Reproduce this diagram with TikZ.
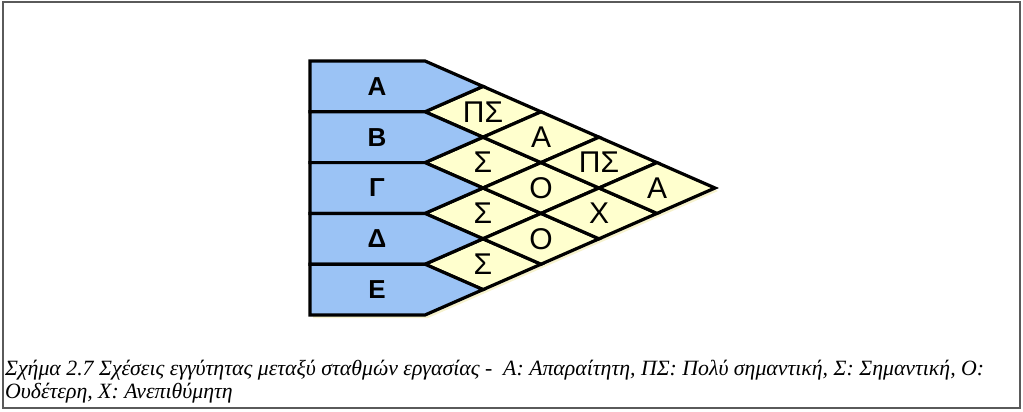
\documentclass[tikz,border=0pt]{standalone}
\usepackage{fontspec}
\setmainfont{Liberation Serif}
\setsansfont{Liberation Sans}
\usetikzlibrary{calc}
\definecolor{rowblue}{RGB}{155,195,245}
\definecolor{relyellow}{RGB}{255,255,206}
\definecolor{shadeyellow}{RGB}{246,242,206}
\definecolor{framegray}{RGB}{90,90,90}

\begin{document}
\begin{tikzpicture}[
    x=1pt, y=-1pt,
    rowbox/.style={draw, fill=rowblue, line width=3.2pt, line join=miter},
    relbox/.style={draw, fill=relyellow, line width=3.2pt, line join=miter},
    rowlabel/.style={font=\sffamily\bfseries\fontsize{26}{26}\selectfont},
    rellabel/.style={font=\sffamily\fontsize{30}{30}\selectfont},
    captext/.style={font=\itshape\fontsize{21.8}{23}\selectfont, align=left, inner sep=0pt}
]
    \useasboundingbox (0,0) rectangle (1023,412);
    \draw[framegray, line width=1.5pt] (3,2) rectangle (1020,408);

    % chart geometry: top, row height, half diamond width
    \def\charttop{61}
    \def\rowht{50.8}
    \def\halfw{58}

    % shadow under the chart
    \fill[shadeyellow] (313,64) -- (428,64) -- (718,191) -- (428,318) -- (313,318) -- cycle;

    % relation diamonds
    \foreach \i/\j/\lab in {0/1/ΠΣ, 1/2/Σ, 2/3/Σ, 3/4/Σ, 0/2/Α, 1/3/Ο, 2/4/Ο, 0/3/ΠΣ, 1/4/Χ, 0/4/Α} {
        \pgfmathsetmacro\cx{425+(\j-\i)*\halfw}
        \pgfmathsetmacro\cy{\charttop+((\i+\j)/2+0.5)*\rowht}
        \draw[relbox] (\cx-\halfw,\cy) -- (\cx,\cy-\rowht/2) -- (\cx+\halfw,\cy) -- (\cx,\cy+\rowht/2) -- cycle;
        \node[rellabel] (rel\i\j) at (\cx,\cy) {\lab};
    }

    % department rows
    \foreach \lab [count=\k from 0] in {Α, Β, Γ, Δ, Ε} {
        \pgfmathsetmacro\ytop{\charttop+\k*\rowht}
        \pgfmathsetmacro\ybot{\charttop+(\k+1)*\rowht}
        \draw[rowbox] (310,\ytop) -- (425,\ytop) -- (425+\halfw,\ytop+\rowht/2) -- (425,\ybot) -- (310,\ybot) -- cycle;
        \node[rowlabel] (row\k) at (377,\ytop+\rowht/2) {\lab};
    }

    % base anchor sits on the last line
    \node[captext, anchor=base west] (caption) at (5,398)
        {Σχήμα 2.7 Σχέσεις εγγύτητας μεταξύ σταθμών εργασίας -\ \ Α: Απαραίτητη, ΠΣ: Πολύ σημαντική, Σ: Σημαντική, Ο:\\
         Ουδέτερη, Χ: Ανεπιθύμητη};
\end{tikzpicture}
\end{document}
